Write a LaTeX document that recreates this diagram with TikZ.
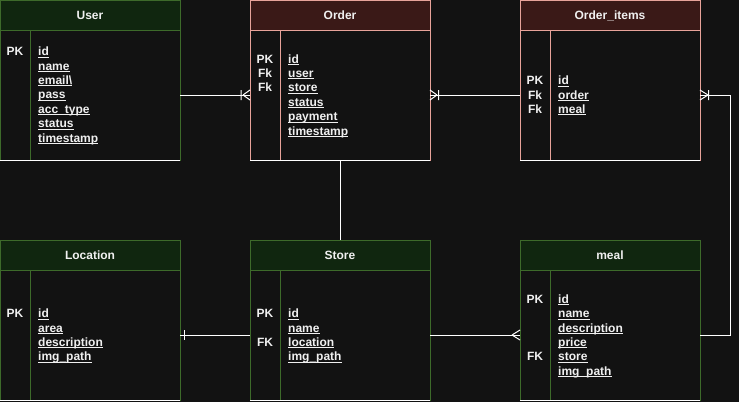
\documentclass[tikz,border=0pt]{standalone}
\usepackage{fontspec}
\setmainfont{Liberation Sans}
\usetikzlibrary{calc}
\definecolor{bg}{HTML}{121212}
\definecolor{gfill}{HTML}{10260F}
\definecolor{gline}{HTML}{3D6A2A}
\definecolor{rfill}{HTML}{3A1917}
\definecolor{rline}{HTML}{E8A39A}
\definecolor{txt}{HTML}{F0F0F0}
\newcommand\fieldul[1]{\setbox0=\hbox{#1}\rlap{\rule[-2pt]{\wd0}{1pt}}\box0}
\newcommand\erdtable[6]{%
  \node[hdr,draw=#6,fill=#5] (#1-h) at (#2,#3) {};
  \node[bdy,draw=#6] (#1) at (#2,#3+30) {};
  \node[ttl] (#1-t) at (#2+90,#3+19.3) {#4};
  \draw[#6,line width=1pt] ($(#1.north west)+(30,0)$) -- ($(#1.south west)+(30,0)$);
  \draw[white,line width=1pt] (#1.south west) -- (#1.south east);
}
\newcommand\erdfields[4]{%
  \foreach \fname [count=\i from 0] in {#4}
    \node[fld] (#1-f\i) at (#2+38,#3+14.4*\i) {\fieldul{\fname}};
}
\newcommand\erdkey[5]{\node[key] (#1-k#5) at (#2+15,#3) {#4};}
\begin{document}
\begin{tikzpicture}[x=1pt,y=-1pt,
  every node/.style={font=\fontsize{12}{14.4}\selectfont\bfseries, text=txt},
  hdr/.style={draw, line width=1pt, minimum width=180pt, minimum height=30pt, anchor=north west, inner sep=0pt, outer sep=0pt},
  bdy/.style={draw, fill=bg, line width=1pt, minimum width=180pt, minimum height=130pt, anchor=north west, inner sep=0pt, outer sep=0pt},
  ttl/.style={anchor=base, inner sep=0pt},
  fld/.style={anchor=base west, inner sep=0pt},
  key/.style={anchor=base, inner sep=0pt},
  conn/.style={draw=white, line width=1pt}]
\fill[bg] (0,0) rectangle (739,402);
\useasboundingbox (0,0) rectangle (739,402);

\erdtable{user}{0}{0}{User}{gfill}{gline}
\erdtable{order}{250}{0}{Order}{rfill}{rline}
\erdtable{oitems}{520}{0}{Order\_items}{rfill}{rline}
\erdtable{loc}{0}{240}{Location}{gfill}{gline}
\erdtable{store}{250}{240}{Store}{gfill}{gline}
\erdtable{meal}{520}{240}{meal}{gfill}{gline}

\erdkey{user}{0}{55.6}{PK}{1}
\erdfields{user}{0}{55.6}{id,name,email\textbackslash,pass,acc\_type,status,timestamp}

\erdkey{order}{250}{63}{PK}{1}
\erdkey{order}{250}{77.4}{Fk}{2}
\erdkey{order}{250}{91.8}{Fk}{3}
\erdfields{order}{250}{63}{id,user,store,status,payment,timestamp}

\erdkey{oitems}{520}{84.6}{PK}{1}
\erdkey{oitems}{520}{99}{Fk}{2}
\erdkey{oitems}{520}{113.4}{Fk}{3}
\erdfields{oitems}{520}{84.6}{id,order,meal}

\erdkey{loc}{0}{317.6}{PK}{1}
\erdfields{loc}{0}{317.6}{id,area,description,img\_path}

\erdkey{store}{250}{317.6}{PK}{1}
\erdkey{store}{250}{346.4}{FK}{2}
\erdfields{store}{250}{317.6}{id,name,location,img\_path}

\erdkey{meal}{520}{303.2}{PK}{1}
\erdkey{meal}{520}{360.8}{FK}{2}
\erdfields{meal}{520}{303.2}{id,name,description,price,store,img\_path}

% User -> Order (one to many at Order)
\draw[conn] (user.east) -- (order.west);
\draw[conn] ($(order.west)+(-7,0)$) -- ($(order.west)+(0,-5)$)
            ($(order.west)+(-7,0)$) -- ($(order.west)+(0,5)$)
            ($(order.west)+(-9,-5)$) -- ($(order.west)+(-9,5)$);
% Order_items -> Order (one to many at Order)
\draw[conn] (oitems.west) -- (order.east);
\draw[conn] ($(order.east)+(7,0)$) -- ($(order.east)+(0,-5)$)
            ($(order.east)+(7,0)$) -- ($(order.east)+(0,5)$)
            ($(order.east)+(8.5,-5)$) -- ($(order.east)+(8.5,5)$);
% meal -> Order_items
\coordinate (bend) at ($(oitems.east)+(30,0)$);
\draw[conn] (oitems.east) -- (bend) |- (meal.east);
\draw[conn] ($(oitems.east)+(8,0)$) -- ($(oitems.east)+(0,-5)$)
            ($(oitems.east)+(8,0)$) -- ($(oitems.east)+(0,5)$)
            ($(oitems.east)+(8.5,-5)$) -- ($(oitems.east)+(8.5,5)$);
% Order -- Store
\draw[conn] (order.south) -- (store-h.north);
% Location -- Store
\draw[conn] (loc.east) -- (store.west);
\draw[conn] ($(loc.east)+(4,-5)$) -- ($(loc.east)+(4,5)$);
% Store -> meal (many at meal)
\draw[conn] (store.east) -- (meal.west);
\draw[conn] ($(meal.west)+(-8,0)$) -- ($(meal.west)+(0,-5)$)
            ($(meal.west)+(-8,0)$) -- ($(meal.west)+(0,5)$);
\end{tikzpicture}
\end{document}
